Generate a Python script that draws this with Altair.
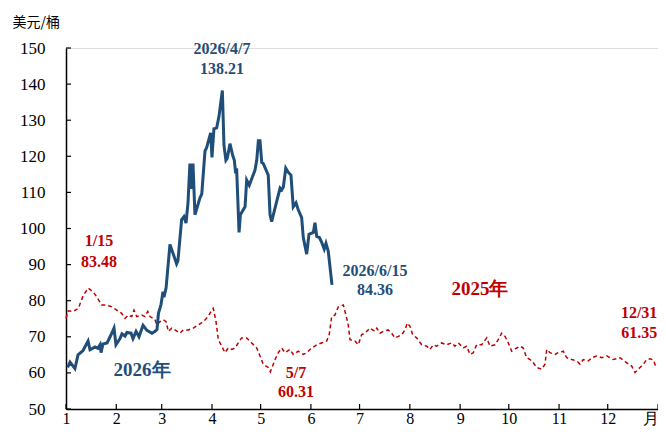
import altair as alt
import pandas as pd

# ---- data (day of year, USD/bbl) ----
days_2026 = [1, 2.5, 5.5, 7.4, 10.5, 13.6, 14.8, 17.9, 19.7, 21, 21.6, 22.8, 25.3, 27.7, 29.6, 30.8,
             33.3, 34.5, 36.4, 37.6, 40.1, 41.3, 43.2, 45, 47.5, 49.9, 53, 54.9, 56.1, 57, 58, 58.6,
             59.8, 60.4, 61.7, 64.1, 68.2, 69, 71.3, 72.7, 74, 75.2, 76.4, 77.5, 78.3, 79.5, 82.6,
             83.7, 85.7, 86.7, 89.2, 90, 91.2, 92.9, 94.3, 96.4, 97.4, 98.6, 99.4, 101.1, 102.8,
             103.8, 104.6, 105.2, 106.7, 107.5, 109.3, 110.4, 111.4, 113, 114.5, 116.5, 117.6,
             118.6, 119.6, 120.7, 121.6, 124.7, 125.8, 126.8, 128.9, 132, 133, 134, 135.5, 137,
             138.7, 140.1, 141.8, 143.2, 145.3, 146.3, 148.4, 149.8, 152.5, 153.5, 154.6, 156.2,
             157.6, 159.2, 160.3, 161.7, 164]
vals_2026 = [61.5, 63, 61.2, 65, 66.2, 68.8, 66.4, 67.2, 66.8, 67.8, 65.6, 68, 68.3, 70.5, 72.4, 67.8,
             69.5, 70.8, 70.2, 71.2, 71, 69.5, 71.5, 70, 73.2, 71.8, 71, 71.5, 72, 76.5, 78, 79,
             82.5, 81, 83.5, 95.6, 90.2, 91, 102.5, 103.3, 101.5, 107, 118, 111, 118, 103.8, 108.5,
             109.5, 121.5, 122.4, 126.5, 119.7, 127.6, 127.9, 131, 138.21, 123, 118.9, 119.4, 123.5, 120.2,
             118.9, 115.3, 116.7, 98.9, 103.8, 105.2, 106, 113.4, 112, 113.8, 116.1, 118.9,
             124.3, 124.3, 118.3, 118, 114.8, 103.8, 101.9, 105.7, 111.2, 110.7, 111.5, 116.7, 115.6,
             114.8, 106, 107.1, 105.2, 103, 97.5, 92.9, 98.4, 98.9, 101.6, 97.8, 97.5,
             96.2, 94.3, 95.9, 93.7, 84.36]

days_2025 = [0, 1.4, 4.5, 7.6, 10.7, 13.7, 16.8, 18.9, 22, 25.1, 28.2, 31.3, 34.3, 36.4, 38.4, 40.5,
             41.9, 43.6, 46.7, 48.7, 50.4, 51.8, 54.9, 55.9, 58, 60, 61.7, 63.1, 65.2, 67.2, 70.3,
             72.3, 75.4, 78.5, 81.6, 84.6, 87.7, 89.8, 90.8, 92.5, 93.9, 96, 98, 100.1, 102.2,
             104.2, 106.2, 108.3, 111.4, 114.5, 117.6, 119.6, 121.6, 124.7, 126, 128.9, 130.9,
             133, 135, 138.1, 140.1, 143.2, 146.3, 148.4, 151.5, 154.6, 157.6, 160.7, 162.3,
             163.8, 165.8, 167.9, 171, 173.1, 174, 175.1, 178.2, 180.2, 182.3, 184.3, 187.4,
             190.5, 191.6, 193.6, 195.6, 198.7, 200.8, 202.8, 204.9, 207, 209, 210.4, 212.1,
             213.7, 216.2, 219.3, 222.4, 224.4, 226.4, 228.5, 231.6, 234.7, 237.8, 239.8, 241.9,
             244.9, 247, 249.1, 251.1, 253.2, 256.3, 259.4, 261.4, 264.5, 266.5, 268.6, 270.7,
             272.7, 274.8, 277.9, 279.9, 281.9, 284, 286.1, 288.1, 290.2, 293.3, 295.3, 296.4,
             298.4, 301.5, 303.5, 306.6, 308.7, 311.8, 314.9, 316.9, 318.9, 322, 324.1, 327.2,
             330.3, 333.4, 337.4, 341.6, 345.7, 348.8, 350.8, 353.9, 356, 358, 360, 362.1, 364]
vals_2025 = [75.1, 77.2, 77, 77.9, 81.5, 83.48, 82.4, 81.1, 78.8, 78.8, 78.3, 77.4, 76.5, 75.1, 76, 75.6,
             77.4, 75.6, 76, 75.6, 77, 75.6, 74.7, 73.3, 74.2, 74.7, 74.2, 71.5, 72.4, 71.9, 71,
             71.9, 71.9, 72.4, 73.3, 74.2, 75.6, 77.4, 77.9, 74.2, 69.2, 67.4, 65.6, 66.9, 66.5,
             66.9, 68.3, 69.7, 69.7, 68.3, 66.9, 64.7, 62.4, 61.5, 60.31, 63.7, 65.6,
             66.9, 65.6, 66.5, 65.1, 66, 65.1, 65.6, 66.9, 67.8, 68.3, 68.8, 70.6,
             75.6, 76, 78.3, 78.8, 75.1, 73.3, 69.2, 68.8, 67.8, 70.6, 71, 72.4,
             71.5, 72.4, 71, 71.5, 71.9, 71, 69.7, 70.1, 70.6, 71.9, 73.8, 72.9,
             70.6, 69.7, 67.8, 67.4, 66.5, 67.8, 67.4, 68.3, 67.8, 68.3, 67.4, 68.3,
             66.9, 67.4, 65.1, 65.6, 67.8, 67.8, 69.7, 67.4, 67.8, 69.2, 71, 70.1,
             68.3, 66, 66.9, 67.4, 66.9, 64.2, 63.7, 62.8, 61.5, 61, 62.4, 66.5,
             65.6, 65.1, 65.6, 66, 64.2, 63.7, 63.3, 62.4, 63.7, 63.3, 64.2, 64.7,
             64.2, 64.7, 63.7, 64.2, 62.8, 61.9, 60.1, 61.5, 62.4, 63.7, 63.9, 63.6, 61.35]

month_days = [0, 31, 59, 90, 120, 151, 181, 212, 243, 273, 304, 334, 365]
month_labels = ["1", "2", "3", "4", "5", "6", "7", "8", "9", "10", "11", "12", "月"]
y_ticks = [50, 60, 70, 80, 90, 100, 110, 120, 130, 140, 150]

ann_text = ["2026/4/7", "138.21", "2026/6/15", "84.36", "2026年", "1/15", "83.48",
            "5/7", "60.31", "2025年", "12/31", "61.35"]
ann_day = [96.2, 96.2, 190.5, 190.5, 46.9, 20.3, 20.3, 141.8, 141.8, 255.2, 364.6, 364.6]
ann_val = [149.7, 144.3, 88.3, 83.1, 60.9, 96.4, 90.7, 60.1, 54.6, 83.3, 76.5, 71.0]
ann_series = ["2026", "2026", "2026", "2026", "2026", "2025", "2025", "2025", "2025", "2025", "2025", "2025"]
ann_size = [16, 16, 16, 16, 19, 16, 16, 16, 16, 19, 16, 16]
ann_align = ["center"] * 10 + ["right", "right"]

BLUE = "#1F4E79"
RED = "#C00000"
SERIF = "Liberation Serif"

PLOT_W, PLOT_H = 592, 361

df26 = pd.DataFrame({"day": days_2026, "value": vals_2026})
df25 = pd.DataFrame({"day": days_2025, "value": vals_2025})
dfx = pd.DataFrame({"day": month_days})
dfy = pd.DataFrame({"value": y_ticks})
dfa = pd.DataFrame({"day": ann_day, "value": ann_val, "text": ann_text,
                    "color": [BLUE if s == "2026" else RED for s in ann_series],
                    "size": ann_size, "align": ann_align})

label_expr = "{" + ",".join(f"'{d}':'{l}'" for d, l in zip(month_days, month_labels)) + "}[datum.value]"

xscale = alt.Scale(domain=[0, 365], nice=False, zero=False)
yscale = alt.Scale(domain=[50, 150], nice=False, zero=False)

xaxis = alt.Axis(values=month_days, labelExpr=label_expr, title=None,
                 labelAlign={"condition": {"test": "datum.value >= 365", "value": "right"}, "value": "center"},
                 labelFlush=False, labelOverlap=False, labelPadding=1, labelFontSize=16)
yaxis = alt.Axis(values=y_ticks, title="美元/桶", titleAngle=0, titleAlign="left",
                 titleBaseline="middle", titleX=-54, titleY=-26, titleFont="Noto Sans CJK SC",
                 titleFontSize=14, titleFontWeight="normal", titleColor="black",
                 labelPadding=21, labelOverlap=False, labelFlush=False, labelFontSize=17)

X = alt.X("day:Q", scale=xscale, axis=xaxis)
Y = alt.Y("value:Q", scale=yscale, axis=yaxis)

line25 = alt.Chart(df25).mark_line(color=RED, strokeWidth=1.5, strokeDash=[4, 3]).encode(x=X, y=Y)
line26 = alt.Chart(df26).mark_line(color=BLUE, strokeWidth=3).encode(x=X, y=Y)
yt = alt.Chart(dfy).mark_rule(color="black", strokeWidth=1.2).encode(
    y=Y, x=alt.value(0), x2=alt.value(5))
xt = alt.Chart(dfx).mark_rule(color="black", strokeWidth=1.2).encode(
    x=X, y=alt.value(PLOT_H), y2=alt.value(PLOT_H - 5))


def text_layer(align):
    return alt.Chart(dfa).transform_filter(alt.datum.align == align).mark_text(
        font=SERIF, fontWeight="bold", align=align, baseline="middle").encode(
        x=X, y=Y, text="text:N",
        color=alt.Color("color:N", scale=None),
        size=alt.Size("size:Q", scale=None),
    )


chart = alt.layer(line25, line26, yt, xt, text_layer("center"), text_layer("right")).properties(
    width=PLOT_W, height=PLOT_H,
    autosize="none",
    padding={"left": 58, "top": 40, "right": 0, "bottom": 21},
).configure_view(stroke=None).configure(background="white").configure_axis(
    grid=False, ticks=False, domainColor="black", domainWidth=1.5,
    labelFont=SERIF, labelColor="black", labelOverlap=False,
)

chart.save("out.html", embed_options={"renderer": "svg", "actions": False})
